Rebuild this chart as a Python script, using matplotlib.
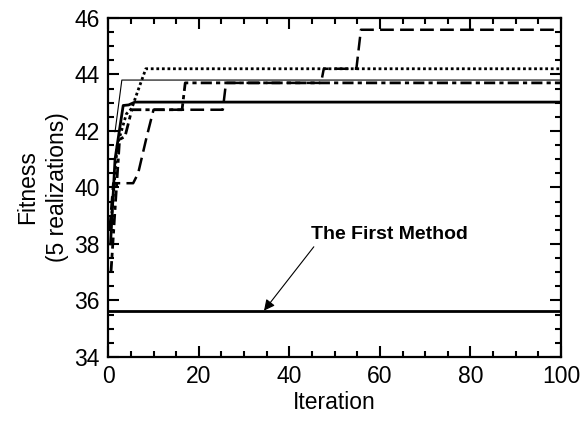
import matplotlib
matplotlib.use('Agg')
import matplotlib.pyplot as plt
from matplotlib.ticker import MultipleLocator

plt.rcParams['font.family'] = ['Liberation Sans', 'DejaVu Sans']

# realization curves (iteration, fitness)
thin_x = [1.0, 1.5, 3.0, 100]
thin_y = [42.0, 41.97, 43.8, 43.8]

dot_x = [0.5, 2.0, 4.0, 5.2, 6.5, 8.3, 100]
dot_y = [38.5, 41.5, 42.6, 42.8, 43.4, 44.2, 44.2]

thick_x = [0.5, 1.5, 3.3, 4.5, 5.9, 100]
thick_y = [38.0, 41.0, 42.9, 42.92, 43.02, 43.02]

dashdot_x = [0.6, 2.5, 3.7, 5.2, 16.3, 17.0, 100]
dashdot_y = [37.0, 41.7, 41.8, 42.75, 42.75, 43.7, 43.7]

dash_x = [0.3, 1.1, 5.5, 6.6, 8.5, 10.0, 25.3, 26.0, 47.0, 47.6, 54.8, 55.8, 100]
dash_y = [38.5, 40.15, 40.15, 40.5, 41.8, 42.75, 42.75, 43.7, 43.7, 44.2, 44.2, 45.58, 45.58]

first_x = [0, 100]
first_y = [35.64, 35.64]

fig = plt.figure(figsize=(5.82, 4.26), dpi=100)
ax = fig.add_axes([0.186, 0.162, 0.778, 0.796])

ax.plot(thin_x, thin_y, color='black', lw=0.8)
ax.plot(dot_x, dot_y, color='black', lw=2.0, linestyle=(0, (1, 1)))
ax.plot(thick_x, thick_y, color='black', lw=2.0)
ax.plot(dashdot_x, dashdot_y, color='black', lw=2.0, linestyle=(0, (4, 1.5, 1.5, 1.5)))
ax.plot(dash_x, dash_y, color='black', lw=1.8, linestyle=(0, (5.5, 2.5)))
ax.plot(first_x, first_y, color='black', lw=2.0)

# arrow from below the label down to the first-method line
ax.annotate('', xy=(34.4, 35.64), xytext=(45.4, 37.9),
            arrowprops=dict(arrowstyle='-|>', color='black', lw=0.8,
                            mutation_scale=16, shrinkA=0, shrinkB=0))
ax.text(44.8, 38.35, 'The First Method', ha='left', va='center',
        fontsize=14, fontweight='bold')

ax.set_xlim(0, 100)
ax.set_ylim(34, 46)
ax.xaxis.set_major_locator(MultipleLocator(20))
ax.xaxis.set_minor_locator(MultipleLocator(5))
ax.yaxis.set_major_locator(MultipleLocator(2))
ax.yaxis.set_minor_locator(MultipleLocator(0.5))
ax.tick_params(which='both', direction='in', top=True, right=True, width=1.5,
               labelsize=16.5)
ax.tick_params(which='major', length=8, pad=6)
ax.tick_params(which='minor', length=4.5)
for s in ax.spines.values():
    s.set_linewidth(1.6)

ax.set_xlabel('Iteration', fontsize=16.5, labelpad=2)
ax.set_ylabel('Fitness\n(5 realizations)', fontsize=16.5, linespacing=1.35,
              labelpad=4)

plt.savefig('out.png', dpi=100)
plt.close()
